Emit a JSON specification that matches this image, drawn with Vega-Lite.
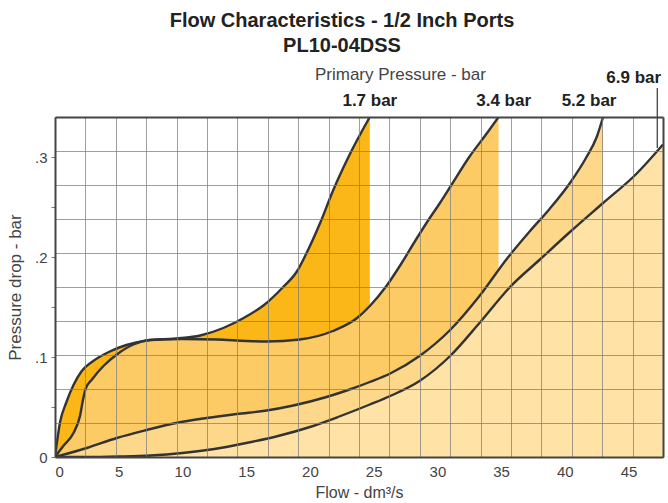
{
  "$schema": "https://vega.github.io/schema/vega-lite/v6.json",
  "autosize": {"type": "none"},
  "padding": {"left": 55, "top": 117, "right": 5, "bottom": 45},
  "width": 608,
  "height": 340,
  "background": "white",
  "config": {
    "font": "Liberation Sans",
    "view": {"stroke": null}
  },
  "title": {
    "text": ["Flow Characteristics - 1/2 Inch Ports", "PL10-04DSS"],
    "fontSize": 20,
    "fontWeight": "bold",
    "color": "#222222",
    "lineHeight": 25,
    "anchor": "middle",
    "frame": "group",
    "dx": -17,
    "offset": 10
  },
  "datasets": {
    "curves": [
      {"series": "1.7 bar", "flow": 0, "dp": 0},
      {"series": "1.7 bar", "flow": 0.4, "dp": 0.035},
      {"series": "1.7 bar", "flow": 0.9, "dp": 0.055},
      {"series": "1.7 bar", "flow": 1.45, "dp": 0.072},
      {"series": "1.7 bar", "flow": 2.1, "dp": 0.086},
      {"series": "1.7 bar", "flow": 3.0, "dp": 0.096},
      {"series": "1.7 bar", "flow": 4.3, "dp": 0.1055},
      {"series": "1.7 bar", "flow": 5.6, "dp": 0.112},
      {"series": "1.7 bar", "flow": 7.2, "dp": 0.1165},
      {"series": "1.7 bar", "flow": 9.5, "dp": 0.1185},
      {"series": "1.7 bar", "flow": 11.4, "dp": 0.1215},
      {"series": "1.7 bar", "flow": 13.2, "dp": 0.129},
      {"series": "1.7 bar", "flow": 14.8, "dp": 0.139},
      {"series": "1.7 bar", "flow": 16.4, "dp": 0.152},
      {"series": "1.7 bar", "flow": 17.9, "dp": 0.17},
      {"series": "1.7 bar", "flow": 19.0, "dp": 0.186},
      {"series": "1.7 bar", "flow": 19.7, "dp": 0.203},
      {"series": "1.7 bar", "flow": 20.8, "dp": 0.234},
      {"series": "1.7 bar", "flow": 21.8, "dp": 0.266},
      {"series": "1.7 bar", "flow": 23.1, "dp": 0.302},
      {"series": "1.7 bar", "flow": 24.7, "dp": 0.34},

      {"series": "3.4 bar", "flow": 0, "dp": 0},
      {"series": "3.4 bar", "flow": 0.65, "dp": 0.011},
      {"series": "3.4 bar", "flow": 1.45, "dp": 0.024},
      {"series": "3.4 bar", "flow": 1.96, "dp": 0.041},
      {"series": "3.4 bar", "flow": 2.2, "dp": 0.0575},
      {"series": "3.4 bar", "flow": 2.4, "dp": 0.068},
      {"series": "3.4 bar", "flow": 2.9, "dp": 0.0775},
      {"series": "3.4 bar", "flow": 3.8, "dp": 0.091},
      {"series": "3.4 bar", "flow": 4.85, "dp": 0.1025},
      {"series": "3.4 bar", "flow": 6.15, "dp": 0.1125},
      {"series": "3.4 bar", "flow": 7.45, "dp": 0.117},
      {"series": "3.4 bar", "flow": 10, "dp": 0.118},
      {"series": "3.4 bar", "flow": 12.7, "dp": 0.1175},
      {"series": "3.4 bar", "flow": 15, "dp": 0.116},
      {"series": "3.4 bar", "flow": 16.6, "dp": 0.1155},
      {"series": "3.4 bar", "flow": 19.2, "dp": 0.1175},
      {"series": "3.4 bar", "flow": 21.8, "dp": 0.126},
      {"series": "3.4 bar", "flow": 23.7, "dp": 0.139},
      {"series": "3.4 bar", "flow": 24.7, "dp": 0.151},
      {"series": "3.4 bar", "flow": 26.0, "dp": 0.171},
      {"series": "3.4 bar", "flow": 27.2, "dp": 0.194},
      {"series": "3.4 bar", "flow": 28.3, "dp": 0.217},
      {"series": "3.4 bar", "flow": 29.4, "dp": 0.239},
      {"series": "3.4 bar", "flow": 30.2, "dp": 0.254},
      {"series": "3.4 bar", "flow": 31.0, "dp": 0.27},
      {"series": "3.4 bar", "flow": 32.5, "dp": 0.3},
      {"series": "3.4 bar", "flow": 33.9, "dp": 0.324},
      {"series": "3.4 bar", "flow": 34.8, "dp": 0.34},

      {"series": "5.2 bar", "flow": 0, "dp": 0},
      {"series": "5.2 bar", "flow": 2.5, "dp": 0.009},
      {"series": "5.2 bar", "flow": 4.85, "dp": 0.019},
      {"series": "5.2 bar", "flow": 7.2, "dp": 0.027},
      {"series": "5.2 bar", "flow": 9.5, "dp": 0.034},
      {"series": "5.2 bar", "flow": 11.9, "dp": 0.039},
      {"series": "5.2 bar", "flow": 14.25, "dp": 0.043},
      {"series": "5.2 bar", "flow": 16.6, "dp": 0.0465},
      {"series": "5.2 bar", "flow": 18.7, "dp": 0.0515},
      {"series": "5.2 bar", "flow": 21.3, "dp": 0.06},
      {"series": "5.2 bar", "flow": 23.0, "dp": 0.067},
      {"series": "5.2 bar", "flow": 24.7, "dp": 0.075},
      {"series": "5.2 bar", "flow": 26.3, "dp": 0.0835},
      {"series": "5.2 bar", "flow": 28.6, "dp": 0.101},
      {"series": "5.2 bar", "flow": 31.0, "dp": 0.127},
      {"series": "5.2 bar", "flow": 33.3, "dp": 0.161},
      {"series": "5.2 bar", "flow": 35.5, "dp": 0.199},
      {"series": "5.2 bar", "flow": 37.2, "dp": 0.225},
      {"series": "5.2 bar", "flow": 38.8, "dp": 0.248},
      {"series": "5.2 bar", "flow": 40.4, "dp": 0.274},
      {"series": "5.2 bar", "flow": 41.7, "dp": 0.3},
      {"series": "5.2 bar", "flow": 42.5, "dp": 0.32},
      {"series": "5.2 bar", "flow": 43.0, "dp": 0.34},

      {"series": "6.9 bar", "flow": 0, "dp": 0},
      {"series": "6.9 bar", "flow": 2.5, "dp": 0.0},
      {"series": "6.9 bar", "flow": 5, "dp": 0.0005},
      {"series": "6.9 bar", "flow": 7.5, "dp": 0.0015},
      {"series": "6.9 bar", "flow": 10, "dp": 0.004},
      {"series": "6.9 bar", "flow": 12.5, "dp": 0.008},
      {"series": "6.9 bar", "flow": 15, "dp": 0.014},
      {"series": "6.9 bar", "flow": 17.5, "dp": 0.021},
      {"series": "6.9 bar", "flow": 20, "dp": 0.03},
      {"series": "6.9 bar", "flow": 22.2, "dp": 0.04},
      {"series": "6.9 bar", "flow": 24.7, "dp": 0.0525},
      {"series": "6.9 bar", "flow": 26.3, "dp": 0.061},
      {"series": "6.9 bar", "flow": 28.6, "dp": 0.076},
      {"series": "6.9 bar", "flow": 31.0, "dp": 0.101},
      {"series": "6.9 bar", "flow": 33.3, "dp": 0.134},
      {"series": "6.9 bar", "flow": 35.7, "dp": 0.17},
      {"series": "6.9 bar", "flow": 38.0, "dp": 0.197},
      {"series": "6.9 bar", "flow": 40.4, "dp": 0.225},
      {"series": "6.9 bar", "flow": 43.0, "dp": 0.254},
      {"series": "6.9 bar", "flow": 45.6, "dp": 0.283},
      {"series": "6.9 bar", "flow": 47.7, "dp": 0.3125}
    ],
    "labels": [
      {"label": "1.7 bar", "flow": 24.7, "dp": 0.3565},
      {"label": "3.4 bar", "flow": 35.2, "dp": 0.3565},
      {"label": "5.2 bar", "flow": 41.9, "dp": 0.3565},
      {"label": "6.9 bar", "flow": 45.4, "dp": 0.3795}
    ],
    "heading": [
      {"label": "Primary Pressure - bar", "flow": 27.1, "dp": 0.3825}
    ],
    "leader": [
      {"flow": 47.25, "dp": 0.309, "dp2": 0.369}
    ]
  },
  "resolve": {"axis": {"x": "independent", "y": "independent"}},
  "layer": [
    {
      "data": {"name": "curves"},
      "transform": [{"filter": "datum.series == '1.7 bar'"}],
      "mark": {"type": "area", "interpolate": "monotone", "color": "#FBB717", "clip": true},
      "encoding": {
        "x": {
          "field": "flow", "type": "quantitative",
          "scale": {"domain": [0, 47.7], "nice": false, "zero": true},
          "axis": {
            "orient": "bottom",
            "values": [0, 5, 10, 15, 20, 25, 30, 35, 40, 45],
            "grid": false, "ticks": false,
            "domain": true, "domainColor": "#444444", "domainWidth": 2,
            "labelFontSize": 15, "labelColor": "#444444", "labelPadding": 7,
            "title": "Flow - dm³/s", "titleFontSize": 16, "titleFontWeight": "normal",
            "titleColor": "#444444", "titlePadding": 5,
            "zindex": 1
          }
        },
        "y": {
          "field": "dp", "type": "quantitative",
          "scale": {"domain": [0, 0.34], "nice": false, "zero": true},
          "axis": {
            "orient": "left",
            "values": [0, 0.05, 0.1, 0.15, 0.2, 0.25, 0.3],
            "labelExpr": "datum.value == 0 ? '0' : (round(datum.value * 100) % 10 == 0 ? '.' + format(datum.value * 10, 'd') : '')",
            "grid": false,
            "ticks": true, "tickSize": 4, "tickColor": "#777777", "tickWidth": 1,
            "domain": true, "domainColor": "#444444", "domainWidth": 2,
            "labelFontSize": 15, "labelColor": "#444444", "labelPadding": 4,
            "title": "Pressure drop - bar", "titleFontSize": 17, "titleFontWeight": "normal",
            "titleColor": "#444444", "titlePadding": 10,
            "zindex": 1
          }
        }
      }
    },
    {
      "data": {"name": "curves"},
      "transform": [{"filter": "datum.series == '3.4 bar'"}],
      "mark": {"type": "area", "interpolate": "monotone", "color": "#FCCB66", "clip": true},
      "encoding": {
        "x": {"field": "flow", "type": "quantitative", "axis": null},
        "y": {"field": "dp", "type": "quantitative", "axis": null}
      }
    },
    {
      "data": {"name": "curves"},
      "transform": [{"filter": "datum.series == '5.2 bar'"}],
      "mark": {"type": "area", "interpolate": "monotone", "color": "#FDD78A", "clip": true},
      "encoding": {
        "x": {"field": "flow", "type": "quantitative", "axis": null},
        "y": {"field": "dp", "type": "quantitative", "axis": null}
      }
    },
    {
      "data": {"name": "curves"},
      "transform": [{"filter": "datum.series == '6.9 bar'"}],
      "mark": {"type": "area", "interpolate": "monotone", "color": "#FEE2A6", "clip": true},
      "encoding": {
        "x": {"field": "flow", "type": "quantitative", "axis": null},
        "y": {"field": "dp", "type": "quantitative", "axis": null}
      }
    },
    {
      "data": {"name": "curves"},
      "mark": {"type": "line", "interpolate": "monotone", "color": "#333333", "strokeWidth": 2.4, "clip": true},
      "encoding": {
        "x": {
          "field": "flow", "type": "quantitative",
          "axis": {
            "orient": "top",
            "values": [0, 2.385, 4.77, 7.155, 9.54, 11.925, 14.31, 16.695, 19.08, 21.465, 23.85, 26.235, 28.62, 31.005, 33.39, 35.775, 38.16, 40.545, 42.93, 45.315, 47.7],
            "labels": false, "ticks": false, "title": null,
            "domain": true, "domainColor": "#444444", "domainWidth": 2,
            "grid": true, "gridColor": "#7f7f7f", "gridOpacity": 0.75, "gridWidth": 1,
            "zindex": 1
          }
        },
        "y": {
          "field": "dp", "type": "quantitative",
          "axis": {
            "orient": "right",
            "values": [0.034, 0.068, 0.102, 0.136, 0.17, 0.204, 0.238, 0.272, 0.306, 0.34],
            "labels": false, "ticks": false, "title": null,
            "domain": true, "domainColor": "#444444", "domainWidth": 2,
            "grid": true, "gridColor": "#7f7f7f", "gridOpacity": 0.75, "gridWidth": 1,
            "zindex": 1
          }
        },
        "detail": {"field": "series", "type": "nominal"}
      }
    },
    {
      "data": {"name": "leader"},
      "mark": {"type": "rule", "color": "#333333", "strokeWidth": 1.2},
      "encoding": {
        "x": {"field": "flow", "type": "quantitative", "axis": null},
        "y": {"field": "dp", "type": "quantitative", "axis": null},
        "y2": {"field": "dp2"}
      }
    },
    {
      "data": {"name": "labels"},
      "mark": {"type": "text", "fontSize": 17, "fontWeight": "bold", "color": "#222222", "align": "center", "baseline": "middle"},
      "encoding": {
        "x": {"field": "flow", "type": "quantitative", "axis": null},
        "y": {"field": "dp", "type": "quantitative", "axis": null},
        "text": {"field": "label"}
      }
    },
    {
      "data": {"name": "heading"},
      "mark": {"type": "text", "fontSize": 17, "color": "#444444", "align": "center", "baseline": "middle"},
      "encoding": {
        "x": {"field": "flow", "type": "quantitative", "axis": null},
        "y": {"field": "dp", "type": "quantitative", "axis": null},
        "text": {"field": "label"}
      }
    }
  ]
}
